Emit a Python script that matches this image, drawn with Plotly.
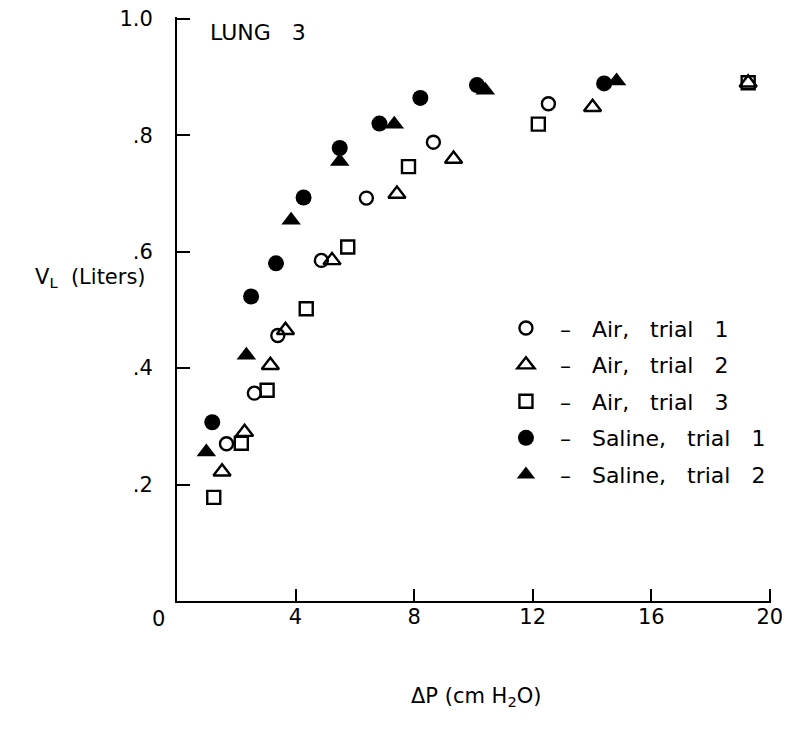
import plotly.graph_objects as go

# Air, trial 1 (open circles)
air1_x = [1.67, 2.61, 3.40, 4.87, 6.39, 8.65, 12.53]
air1_y = [0.270, 0.357, 0.456, 0.585, 0.692, 0.788, 0.854]
# Air, trial 2 (open triangles)
air2_x = [1.52, 2.28, 3.15, 3.66, 5.23, 7.42, 9.33, 14.02, 19.27]
air2_y = [0.222, 0.290, 0.405, 0.465, 0.585, 0.699, 0.759, 0.848, 0.890]
# Air, trial 3 (open squares)
air3_x = [1.24, 2.17, 3.04, 4.36, 5.76, 7.81, 12.19, 19.27]
air3_y = [0.178, 0.271, 0.362, 0.502, 0.608, 0.746, 0.819, 0.890]
# Saline, trial 1 (filled circles)
sal1_x = [1.19, 2.50, 3.34, 4.27, 5.49, 6.83, 8.21, 10.12, 14.41]
sal1_y = [0.307, 0.523, 0.580, 0.693, 0.778, 0.820, 0.864, 0.886, 0.889]
# Saline, trial 2 (filled triangles)
sal2_x = [0.99, 2.34, 3.85, 5.49, 7.33, 10.40, 14.83]
sal2_y = [0.256, 0.422, 0.654, 0.755, 0.819, 0.877, 0.893]

x_ticks = [4, 8, 12, 16, 20]
x_ticktext = ["4", "8", "12", "16", "20"]
y_ticks = [0.2, 0.4, 0.6, 0.8, 1.0]
y_ticktext = [".2", ".4", ".6", ".8", "1.0"]

FONT = "DejaVu Sans"
fig = go.Figure()

series = [
    (" –   Air,   trial   1", air1_x, air1_y, dict(symbol="circle-open", size=13, line=dict(width=2.4, color="black"))),
    (" –   Air,   trial   2", air2_x, air2_y, dict(symbol="triangle-up-open", size=15, line=dict(width=2.4, color="black"))),
    (" –   Air,   trial   3", air3_x, air3_y, dict(symbol="square-open", size=13, line=dict(width=2.4, color="black"))),
    (" –   Saline,   trial   1", sal1_x, sal1_y, dict(symbol="circle", size=16, line=dict(width=0))),
    (" –   Saline,   trial   2", sal2_x, sal2_y, dict(symbol="triangle-up", size=17, line=dict(width=0))),
]
for i, (name, xs, ys, mk) in enumerate(series):
    fig.add_trace(go.Scatter(x=xs, y=ys, mode="markers", name=name,
                             legendgroup=f"g{i}",
                             marker=dict(color="black", **mk)))

axis_common = dict(showgrid=False, zeroline=False, showline=True, linecolor="black",
                   linewidth=2, ticks="inside", tickcolor="black", tickwidth=2,
                   automargin=False, ticklabeloverflow="allow",
                   tickfont=dict(family=FONT, size=21, color="black"))
fig.update_xaxes(range=[0, 20.04], tickvals=x_ticks, ticktext=x_ticktext, ticklen=12,
                 ticklabelstandoff=-4, **axis_common)
fig.update_yaxes(range=[0, 1.003], tickvals=y_ticks, ticktext=y_ticktext, ticklen=13,
                 ticklabelstandoff=18, **axis_common)

fig.update_layout(
    width=774, height=719,
    margin=dict(l=168.5, r=11, t=8.5, b=126, autoexpand=False),
    plot_bgcolor="white", paper_bgcolor="white",
    showlegend=True,
    legend=dict(x=0.542, y=0.503, xanchor="left", yanchor="top",
                font=dict(family=FONT, size=22, color="black"),
                tracegroupgap=5, bgcolor="rgba(0,0,0,0)", itemwidth=44),
    annotations=[
        dict(text="0", x=0, y=0, xref="x", yref="y", xanchor="center", yanchor="top",
             xshift=-19, yshift=-4, showarrow=False, font=dict(family=FONT, size=21, color="black")),
        dict(text="LUNG   3", x=0.053, y=0.974, xref="paper", yref="paper",
             xanchor="left", yanchor="middle", showarrow=False,
             font=dict(family=FONT, size=22, color="black")),
        dict(text="V<sub>L</sub>  (Liters)", x=-0.048, y=0.553, xref="paper", yref="paper",
             xanchor="right", yanchor="middle", showarrow=False,
             font=dict(family=FONT, size=21, color="black")),
        dict(text="ΔP (cm H<sub>2</sub>O)", x=0.503, y=-0.164, xref="paper", yref="paper",
             xanchor="center", yanchor="middle", showarrow=False,
             font=dict(family=FONT, size=21, color="black")),
    ],
)

fig.write_html("out.html")
